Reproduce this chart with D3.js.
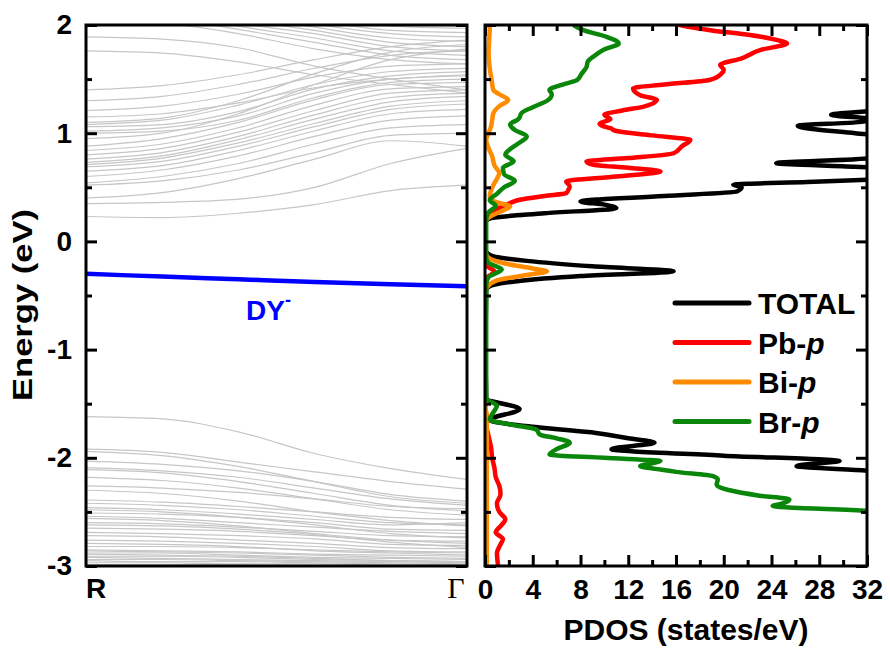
<!DOCTYPE html>
<html>
<head>
<meta charset="utf-8">
<script src="https://cdn.jsdelivr.net/npm/d3@7"></script>
<style>
  html, body { margin: 0; padding: 0; background: #fff; }
  svg text { font-family: Arial, "Liberation Sans", sans-serif; font-weight: bold; }
</style>
</head>
<body>
<div id="chart"></div>
<script>
// k-path sampling points (R = 0, Gamma = 1)
const kPoints = [0, 0.2, 0.4, 0.6, 0.8, 1];

// conduction bands, energies (eV) at kPoints
const conductionBands = [
  [0.23, 0.22, 0.26, 0.34, 0.47, 0.52],
  [0.35, 0.36, 0.39, 0.50, 0.72, 0.86],
  [0.40, 0.45, 0.58, 0.76, 0.93, 0.88],
  [0.52, 0.56, 0.66, 0.82, 0.98, 1.00],
  [0.54, 0.60, 0.72, 0.90, 1.05, 1.08],
  [0.60, 0.66, 0.79, 0.97, 1.12, 1.16],
  [0.65, 0.70, 0.84, 1.02, 1.18, 1.22],
  [0.69, 0.74, 0.88, 1.06, 1.22, 1.27],
  [0.71, 0.77, 0.91, 1.09, 1.25, 1.30],
  [0.73, 0.79, 0.94, 1.13, 1.29, 1.34],
  [0.76, 0.82, 0.97, 1.17, 1.33, 1.37],
  [0.80, 0.86, 1.01, 1.21, 1.37, 1.40],
  [0.84, 0.90, 1.05, 1.26, 1.41, 1.43],
  [0.88, 0.95, 1.10, 1.31, 1.45, 1.47],
  [1.00, 1.02, 1.12, 1.33, 1.47, 1.50],
  [1.02, 1.05, 1.16, 1.37, 1.50, 1.53],
  [1.06, 1.08, 1.20, 1.41, 1.53, 1.57],
  [1.08, 1.12, 1.26, 1.45, 1.57, 1.60],
  [1.15, 1.18, 1.28, 1.42, 1.50, 1.54],
  [1.21, 1.25, 1.36, 1.52, 1.62, 1.64],
  [1.30, 1.34, 1.45, 1.60, 1.72, 1.76],
  [1.40, 1.44, 1.54, 1.68, 1.80, 1.86],
  [0.95, 1.00, 1.18, 1.45, 1.68, 1.78],
  [1.10, 1.14, 1.30, 1.55, 1.75, 1.82],
  [1.89, 1.87, 1.79, 1.62, 1.50, 1.40],
  [1.76, 1.74, 1.66, 1.54, 1.45, 1.37],
  [2.05, 2.02, 1.92, 1.78, 1.68, 1.64],
  [2.15, 2.08, 1.96, 1.84, 1.72, 1.68],
  [2.20, 2.12, 1.99, 1.88, 1.76, 1.72],
  [2.25, 2.18, 2.02, 1.92, 1.80, 1.76],
  [2.30, 2.22, 2.06, 1.95, 1.84, 1.80],
  [2.35, 2.28, 2.10, 1.98, 1.88, 1.85],
  [2.40, 2.32, 2.15, 2.01, 1.92, 1.89],
  [2.45, 2.38, 2.20, 2.05, 1.95, 1.93],
  [2.50, 2.42, 2.25, 2.10, 1.99, 1.97],
  [2.55, 2.46, 2.30, 2.14, 2.02, 1.99]
];

// valence bands, energies (eV) at kPoints
const valenceBands = [
  [-1.62, -1.64, -1.76, -1.96, -2.10, -2.20],
  [-1.92, -1.95, -2.04, -2.13, -2.22, -2.29],
  [-1.94, -1.98, -2.08, -2.22, -2.36, -2.42],
  [-2.03, -2.06, -2.12, -2.22, -2.34, -2.40],
  [-2.09, -2.12, -2.18, -2.28, -2.38, -2.44],
  [-2.11, -2.14, -2.22, -2.33, -2.44, -2.49],
  [-2.18, -2.21, -2.28, -2.38, -2.48, -2.53],
  [-2.26, -2.28, -2.32, -2.38, -2.45, -2.47],
  [-2.30, -2.33, -2.40, -2.50, -2.58, -2.63],
  [-2.39, -2.41, -2.45, -2.50, -2.55, -2.57],
  [-2.42, -2.44, -2.48, -2.54, -2.60, -2.62],
  [-2.46, -2.48, -2.52, -2.57, -2.62, -2.60],
  [-2.48, -2.50, -2.55, -2.62, -2.70, -2.74],
  [-2.51, -2.52, -2.55, -2.60, -2.66, -2.67],
  [-2.54, -2.56, -2.60, -2.64, -2.68, -2.70],
  [-2.56, -2.58, -2.63, -2.70, -2.76, -2.79],
  [-2.60, -2.61, -2.64, -2.68, -2.72, -2.73],
  [-2.62, -2.63, -2.66, -2.71, -2.78, -2.83],
  [-2.65, -2.66, -2.68, -2.72, -2.76, -2.77],
  [-2.69, -2.70, -2.72, -2.75, -2.80, -2.81],
  [-2.72, -2.73, -2.76, -2.79, -2.83, -2.84],
  [-2.76, -2.77, -2.79, -2.82, -2.86, -2.87],
  [-2.79, -2.80, -2.82, -2.86, -2.88, -2.90],
  [-2.82, -2.82, -2.83, -2.85, -2.87, -2.88],
  [-2.85, -2.86, -2.87, -2.89, -2.90, -2.91],
  [-2.86, -2.87, -2.88, -2.90, -2.92, -2.93],
  [-2.88, -2.88, -2.90, -2.92, -2.93, -2.94],
  [-2.89, -2.90, -2.91, -2.93, -2.95, -2.96],
  [-2.91, -2.91, -2.92, -2.94, -2.95, -2.96],
  [-2.92, -2.93, -2.94, -2.95, -2.96, -2.97],
  [-2.94, -2.94, -2.95, -2.96, -2.97, -2.98],
  [-2.95, -2.96, -2.96, -2.97, -2.98, -2.99],
  [-2.97, -2.97, -2.98, -2.98, -2.99, -3.00],
  [-2.99, -2.99, -2.99, -3.00, -3.00, -3.01]
];

// defect level DY-
const defectBand = [-0.30, -0.325, -0.35, -0.375, -0.395, -0.415];

// PDOS curves: [energy (eV), states/eV]
const totalDos = [
  [-3.0, 40], [-2.2, 40], [-2.12, 32], [-2.077, 26.1], [-2.05, 28], [-2.03, 29.7],
  [-1.98, 20], [-1.92, 10.6], [-1.86, 14.2], [-1.82, 12], [-1.77, 9.3], [-1.72, 4.6],
  [-1.65, 0.4], [-1.55, 2.9], [-1.45, 0.1], [-1.0, 0.05], [-0.45, 0.1], [-0.42, 0.3],
  [-0.37, 2.5], [-0.32, 8], [-0.277, 15.8], [-0.23, 9], [-0.18, 3.5], [-0.13, 0.5],
  [-0.08, 0.05], [0.18, 0.05], [0.215, 0.5], [0.26, 5], [0.308, 11], [0.34, 10],
  [0.369, 8], [0.42, 15], [0.461, 21.1], [0.50, 21.5], [0.523, 20.8], [0.55, 27],
  [0.569, 32], [0.60, 38], [0.66, 36], [0.69, 31], [0.723, 24.4], [0.76, 31],
  [0.80, 36], [0.95, 36], [1.0, 31], [1.068, 26.2], [1.10, 31], [1.13, 32.5],
  [1.17, 29], [1.21, 33], [1.25, 38], [2.05, 38]
];
const pbP = [
  [-3.0, 1.1], [-2.88, 1.0], [-2.8, 1.3], [-2.75, 1.5], [-2.69, 0.9], [-2.62, 1.4],
  [-2.57, 1.7], [-2.5, 1.2], [-2.42, 1.0], [-2.34, 1.3], [-2.26, 1.2], [-2.18, 0.9],
  [-2.1, 0.8], [-2.0, 0.6], [-1.9, 0.5], [-1.8, 0.3], [-1.7, 0.1], [-1.6, 0.02],
  [-0.4, 0.02], [-0.33, 0.2], [-0.28, 0.8], [-0.23, 0.2], [-0.18, 0.02], [0.22, 0.02],
  [0.27, 0.5], [0.31, 1.2], [0.354, 2.1], [0.385, 2.9], [0.42, 5.0], [0.446, 6.8],
  [0.48, 7.0], [0.508, 7.1], [0.554, 6.8], [0.60, 11], [0.646, 14.7], [0.68, 12],
  [0.71, 9], [0.738, 8.5], [0.77, 12], [0.815, 15.8], [0.88, 16.5], [0.938, 17.2],
  [0.98, 14], [1.02, 11], [1.046, 10.5], [1.07, 9.8], [1.088, 9.6], [1.13, 10.5],
  [1.17, 10.0], [1.21, 11.5], [1.246, 13.3], [1.308, 14.4], [1.35, 13], [1.415, 12.4],
  [1.45, 15], [1.492, 18.8], [1.55, 19.8], [1.585, 20], [1.631, 19.7], [1.692, 21.5],
  [1.77, 23.1], [1.83, 25.3], [1.86, 24.5], [1.908, 22.2], [1.95, 19], [1.985, 16.9],
  [2.05, 15]
];
const biP = [
  [-3.0, 0.15], [-1.6, 0.15], [-1.55, 0.05], [-0.45, 0.05], [-0.42, 0.2], [-0.36, 1.0],
  [-0.31, 3.5], [-0.277, 5.2], [-0.25, 4.0], [-0.2, 1.5], [-0.15, 0.3], [-0.1, 0.05],
  [0.18, 0.05], [0.24, 0.6], [0.29, 1.6], [0.323, 2.1], [0.36, 1.0], [0.41, 0.4],
  [0.47, 0.5], [0.52, 0.7], [0.58, 1.0], [0.631, 1.2], [0.70, 0.8], [0.785, 0.6],
  [0.86, 0.3], [0.938, 0.1], [1.0, 0.3], [1.06, 0.5], [1.12, 0.6], [1.184, 0.7],
  [1.25, 1.2], [1.308, 1.95], [1.36, 1.2], [1.4, 0.7], [1.492, 0.55], [1.6, 0.4],
  [1.74, 0.3], [1.86, 0.35], [1.985, 0.4], [2.05, 0.4]
];
const brP = [
  [-3.0, 40], [-2.55, 40], [-2.49, 32], [-2.446, 24.1], [-2.42, 25], [-2.385, 25.5],
  [-2.35, 23], [-2.246, 19.4], [-2.2, 19.5], [-2.17, 19.1], [-2.13, 16], [-2.108, 14.7],
  [-2.077, 13.0], [-2.05, 14], [-2.03, 14.7], [-2.0, 10], [-1.97, 5.4], [-1.92, 6],
  [-1.86, 7.1], [-1.82, 6], [-1.785, 4.6], [-1.74, 4.3], [-1.69, 2], [-1.646, 0.4],
  [-1.58, 0.7], [-1.52, 1.0], [-1.47, 0.3], [-1.45, 0.1], [-0.4, 0.1], [-0.33, 0.3],
  [-0.26, 1.4], [-0.2, 0.3], [-0.15, 0.1], [0.2, 0.1], [0.27, 0.3], [0.33, 0.9],
  [0.38, 0.4], [0.44, 1.0], [0.5, 1.6], [0.56, 2.5], [0.62, 1.6], [0.68, 1.5],
  [0.74, 2.4], [0.8, 1.7], [0.86, 2.2], [0.92, 3.0], [0.97, 3.5], [1.03, 2.5],
  [1.08, 2.1], [1.13, 2.8], [1.19, 3.1], [1.24, 4.0], [1.30, 5.2], [1.36, 5.6],
  [1.40, 5.4], [1.45, 6.5], [1.49, 7.7], [1.55, 8.1], [1.61, 8.5], [1.66, 8.6],
  [1.71, 9.1], [1.77, 9.9], [1.83, 11.2], [1.89, 10.2], [1.95, 8.3], [2.0, 7.4]
];

const energyTicks = [-3, -2, -1, 0, 1, 2];
const energyMinor = [-2.5, -1.5, -0.5, 0.5, 1.5];
const dosTicks = [0, 4, 8, 12, 16, 20, 24, 28, 32];
const dosMinor = [2, 6, 10, 14, 18, 22, 26, 30];
const legendNames = ["TOTAL", "Pb", "Bi", "Br"];
const legendColors = ["#000000", "#ff0000", "#ff8c00", "#0a870a"];

const width = 890, height = 649;
const plotTop = 25, plotBottom = 566;
const leftPanel = { x0: 86, x1: 467 };
const rightPanel = { x0: 485, x1: 867 };

const svg = d3.select("#chart").append("svg")
  .attr("width", width)
  .attr("height", height);

const y = d3.scaleLinear().domain([-3, 2]).range([plotBottom, plotTop]);
const xk = d3.scaleLinear().domain([0, 1]).range([leftPanel.x0, leftPanel.x1]);
const xd = d3.scaleLinear().domain([0, 32]).range([rightPanel.x0, rightPanel.x1]);

const defs = svg.append("defs");
defs.append("clipPath").attr("id", "clipL").append("rect")
  .attr("x", leftPanel.x0).attr("y", plotTop)
  .attr("width", leftPanel.x1 - leftPanel.x0).attr("height", plotBottom - plotTop);
defs.append("clipPath").attr("id", "clipR").append("rect")
  .attr("x", rightPanel.x0).attr("y", plotTop)
  .attr("width", rightPanel.x1 - rightPanel.x0).attr("height", plotBottom - plotTop);

// band structure
const bandLine = d3.line()
  .x((d, i) => xk(kPoints[i]))
  .y(d => y(d))
  .curve(d3.curveMonotoneX);

const gBands = svg.append("g").attr("clip-path", "url(#clipL)");
gBands.selectAll("path.band")
  .data(conductionBands.concat(valenceBands))
  .enter().append("path")
  .attr("class", "band")
  .attr("d", bandLine)
  .attr("fill", "none")
  .attr("stroke", "#c6c6c6")
  .attr("stroke-width", 1.2);

gBands.append("path")
  .attr("d", bandLine(defectBand))
  .attr("fill", "none")
  .attr("stroke", "#0000ff")
  .attr("stroke-width", 4.5);

const dyLabel = svg.append("text")
  .attr("x", 246).attr("y", 320)
  .attr("fill", "#0000ff")
  .style("font-size", "28px")
  .text("DY");
dyLabel.append("tspan")
  .attr("dy", -14)
  .style("font-size", "18px")
  .text("-");

// PDOS curves
const dosLine = d3.line()
  .x(d => xd(d[1]))
  .y(d => y(d[0]))
  .curve(d3.curveMonotoneY);

const gDos = svg.append("g").attr("clip-path", "url(#clipR)");
[totalDos, pbP, biP, brP].forEach((series, i) => {
  gDos.append("path")
    .attr("d", dosLine(series.slice().reverse()))
    .attr("fill", "none")
    .attr("stroke", legendColors[i])
    .attr("stroke-width", 4.5)
    .attr("stroke-linejoin", "round");
});

// axes and ticks (inward)
const plainFormat = d => String(d);

function energyTicksAt(x, orient, labels) {
  const mk = () => (orient === "left" ? d3.axisLeft(y) : d3.axisRight(y));
  const g = svg.append("g").attr("transform", `translate(${x},0)`);
  g.call(mk().tickValues(energyTicks).tickSize(-11).tickPadding(14)
    .tickFormat(labels ? plainFormat : ""));
  g.append("g").call(mk().tickValues(energyMinor).tickSize(-6).tickFormat(""));
  g.selectAll(".domain").remove();
  g.selectAll("line").attr("stroke", "#000").attr("stroke-width", 3);
  g.selectAll("text").attr("fill", "#000").style("font-size", "28px")
    .style("font-family", "Arial, 'Liberation Sans', sans-serif");
  return g;
}
energyTicksAt(leftPanel.x0, "left", true);
energyTicksAt(leftPanel.x1, "right", false);
energyTicksAt(rightPanel.x0, "left", false);
energyTicksAt(rightPanel.x1, "right", false);

function dosTicksAt(yPos, orient, labels) {
  const mk = () => (orient === "bottom" ? d3.axisBottom(xd) : d3.axisTop(xd));
  const g = svg.append("g").attr("transform", `translate(0,${yPos})`);
  g.call(mk().tickValues(dosTicks).tickSize(-11).tickPadding(13)
    .tickFormat(labels ? plainFormat : ""));
  g.append("g").call(mk().tickValues(dosMinor).tickSize(-6).tickFormat(""));
  g.selectAll(".domain").remove();
  g.selectAll("line").attr("stroke", "#000").attr("stroke-width", 3);
  g.selectAll("text").attr("fill", "#000").style("font-size", "28px")
    .style("font-family", "Arial, 'Liberation Sans', sans-serif");
  return g;
}
dosTicksAt(plotBottom, "bottom", true);
dosTicksAt(plotTop, "top", false);

// frames
[leftPanel, rightPanel].forEach(p => {
  svg.append("rect")
    .attr("x", p.x0).attr("y", plotTop)
    .attr("width", p.x1 - p.x0).attr("height", plotBottom - plotTop)
    .attr("fill", "none")
    .attr("stroke", "#000")
    .attr("stroke-width", 3);
});

// k-point labels
svg.append("text")
  .attr("x", leftPanel.x0).attr("y", 598)
  .style("font-size", "28px")
  .text("R");
svg.append("text")
  .attr("x", 456).attr("y", 598)
  .attr("text-anchor", "middle")
  .style("font-family", "'Liberation Serif', 'Times New Roman', serif")
  .style("font-weight", "normal")
  .style("font-size", "30px")
  .text("Γ");

// axis titles
svg.append("text")
  .attr("transform", "translate(32,305) rotate(-90)")
  .attr("text-anchor", "middle")
  .attr("textLength", 192)
  .attr("lengthAdjust", "spacingAndGlyphs")
  .style("font-size", "28px")
  .text("Energy (eV)");
svg.append("text")
  .attr("x", 686).attr("y", 640)
  .attr("text-anchor", "middle")
  .style("font-size", "30px")
  .text("PDOS (states/eV)");

// legend
const legend = svg.append("g");
legendNames.forEach((name, i) => {
  const ly = 303 + i * 39.5;
  legend.append("line")
    .attr("x1", 675).attr("x2", 749)
    .attr("y1", ly).attr("y2", ly)
    .attr("stroke", legendColors[i])
    .attr("stroke-width", 5)
    .attr("stroke-linecap", "round");
  const t = legend.append("text")
    .attr("x", 758).attr("y", ly + 11)
    .style("font-size", "30px")
    .text(i === 0 ? name : name + "-");
  if (i > 0) t.append("tspan").style("font-style", "italic").text("p");
});
</script>
</body>
</html>
